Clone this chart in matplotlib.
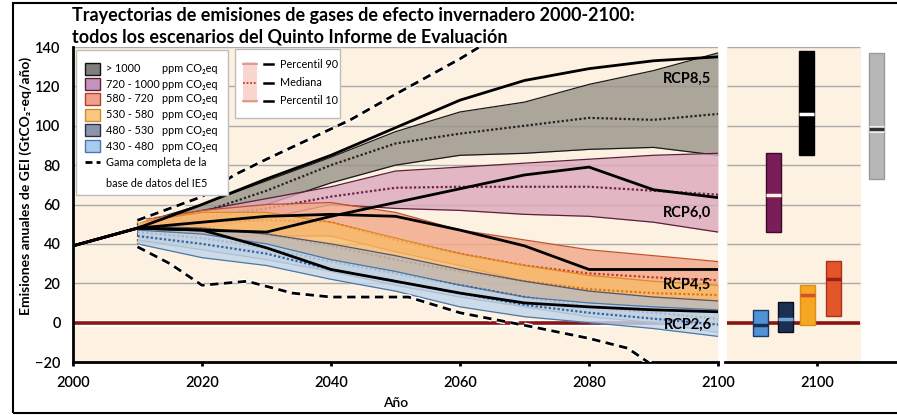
import matplotlib
matplotlib.use('Agg')
import matplotlib.pyplot as plt
import matplotlib.patheffects as pe
from matplotlib.patches import Rectangle
from matplotlib.lines import Line2D

plt.rcParams['font.family'] = ['Lato', 'DejaVu Sans']

# ---------------- data ----------------
band_years = [2010, 2020, 2030, 2040, 2050, 2060, 2070, 2080, 2090, 2100]

# >1000 ppm CO2eq
c1000_lo = [45, 51, 60, 71, 80, 85, 86, 88, 89, 85]
c1000_med = [47, 56, 67, 80, 91, 96, 100, 104, 103, 106]
c1000_hi = [50, 60, 72, 84, 97, 107, 112, 121, 128, 137]
# 720-1000
c720_lo = [44, 48, 53, 60, 58, 57, 55, 54, 51, 46]
c720_med = [47, 53, 58, 64, 68.5, 69, 69, 69, 67, 65]
c720_hi = [50, 57, 63, 69, 77, 79, 81, 83, 85, 86]
# 580-720
c580_lo = [42, 44, 44, 44, 36, 29, 21, 16, 13, 11]
c580_med = [47, 51, 52, 51, 42, 35, 29, 25, 23, 21.5]
c580_hi = [52, 57, 60, 61, 56, 47, 42, 37, 34, 31]
# 530-580
c530_lo = [41, 40, 36, 28, 21, 14, 9, 5, 2, 0]
c530_med = [46, 48, 45, 39, 32, 26, 21, 17, 15, 14]
c530_hi = [51, 56, 56, 51, 43, 35, 29, 24, 21, 19]
# 480-530
c480_lo = [42, 37, 32, 26, 19, 13, 8, 3, 0, -5]
c480_med = [46, 43, 38, 31, 25, 19, 13, 8, 5, 2]
c480_hi = [49, 48, 45, 40, 34, 27, 21, 16, 13, 11]
# 430-480
c430_lo = [40, 33, 29, 22, 16, 8, 3, 0, -3, -7]
c430_med = [44, 40, 35, 27, 21, 15, 9, 5, 2, -1]
c430_hi = [47, 45, 40, 32, 26, 19, 13, 10, 8, 6.5]

rcp_years = [2000, 2010, 2020, 2030, 2040, 2050, 2060, 2070, 2080, 2090, 2100]
rcp85 = [39, 48, 60, 73, 85, 99, 113, 123, 129, 133, 135]
rcp60 = [39, 48, 47, 46, 54, 61, 68, 75, 79, 67.5, 63.5]
rcp45 = [39, 48, 51, 54, 55, 54, 47, 39, 27, 27, 27]
rcp26 = [39, 48, 47, 38, 27, 21, 15, 10, 8, 6.5, 5.5]

range_hi_years = [2010, 2020, 2025, 2030, 2043, 2050, 2060, 2066]
range_hi = [52, 64, 75, 83, 103, 116, 134, 146]
range_lo_years = [2010, 2015, 2020, 2027, 2034, 2040, 2052, 2060, 2071, 2080, 2086, 2090]
range_lo = [38.5, 30, 19, 21, 15, 13, 13, 5, -2, -8, -13, -22]

# 2100 ranges (right panel)
bar_names = ['430-480', '480-530', '530-580', '580-720', '720-1000', '>1000']
bar_lo = [-7, -5, -1, 3.5, 46, 85]
bar_med = [-1, 2, 14, 22, 65, 106]
bar_hi = [6.5, 10.7, 19, 31.5, 86, 138]
base_lo, base_med, base_hi = 73, 98.5, 137

rcp_labels = ['RCP8,5', 'RCP6,0', 'RCP4,5', 'RCP2,6']
rcp_label_y = [124, 56, 19, -1]

legend_labels = ['> 1000', '720 - 1000', '580 - 720', '530 - 580', '480 - 530', '430 - 480']

# ---------------- styles ----------------
CREAM = '#fdf1e1'
GRID = '#a9a9a9'
ZERO = '#8b1414'
band_fill = ['#9a948b', '#dcaabd', '#f3a98b', '#f8ba6a', '#b3b8c6', '#c3d7eb']
band_alpha = [0.82, 0.82, 0.82, 0.82, 0.7, 0.82]
band_edge = ['#1a1a1a', '#5a1f3c', '#c0532e', '#e08a20', '#4f5872', '#4a78a8']
band_med = ['#222222', '#6a2448', '#c63c20', '#d87a10', '#2a3560', '#2f63a8']
legend_face = ['#7f7f7f', '#c493bd', '#f2a08c', '#f9c77f', '#8c93ab', '#a9cbee']
legend_edge = ['#111111', '#5a1f3c', '#b0402a', '#d08a30', '#2a3048', '#4a78a8']
bar_face = ['#4f93d6', '#1c2f52', '#f5a623', '#e2562a', '#7a1e5a', '#000000']
bar_edge = ['#1d3a66', '#0a0f1e', '#d8901a', '#a8321a', '#3a0a28', '#000000']
bar_mcol = ['#1a2d50', '#6fa4da', '#d4502a', '#9c1f1a', CREAM, '#ffffff']
bar_x = [760, 785, 807.5, 833, 773, 806.5]   # pixel slots in right panel
bar_w = 15

W, H = 897, 415
fig = plt.figure(figsize=(W / 100, H / 100), dpi=100)


def fx(px):
    return px / W


def fy(py):
    return 1 - py / H


ax = fig.add_axes([fx(73), fy(362), 645 / W, 315 / H])
ax.set_facecolor(CREAM)
ax.set_xlim(2000, 2100)
ax.set_ylim(-20, 140)
ax.set_yticks(range(-20, 141, 20))
ax.set_yticklabels(['\u221220'] + [str(v) for v in range(0, 141, 20)])
ax.set_xticks(range(2000, 2101, 20))
ax.grid(axis='y', color=GRID, lw=1, zorder=0)
ax.set_axisbelow(True)
for s in ['top', 'right']:
    ax.spines[s].set_visible(False)
for s in ['left', 'bottom']:
    ax.spines[s].set_linewidth(2)
ax.tick_params(axis='y', length=0, pad=9, labelsize=10.5)
ax.tick_params(axis='x', length=3, width=2, pad=7, labelsize=10.5)
for t in ax.get_xticklabels() + ax.get_yticklabels():
    t.set_fontweight('semibold')

ax.axhline(0, color='white', lw=5, zorder=1)
ax.axhline(0, color=ZERO, lw=2.6, zorder=1.1)

bands = [(c1000_lo, c1000_med, c1000_hi), (c720_lo, c720_med, c720_hi),
         (c580_lo, c580_med, c580_hi), (c530_lo, c530_med, c530_hi),
         (c480_lo, c480_med, c480_hi), (c430_lo, c430_med, c430_hi)]
for i, (lo, med, hi) in enumerate(bands):
    z = 2 + i * 0.1
    ax.fill_between(band_years, lo, hi, color=band_fill[i], alpha=band_alpha[i], lw=0,
                    zorder=z)
    ax.plot(band_years, lo, color=band_edge[i], lw=0.9, zorder=z + 0.01)
    ax.plot(band_years, hi, color=band_edge[i], lw=0.9, zorder=z + 0.01)
    ax.plot(band_years, med, color=band_med[i], lw=1.6, ls=(0, (1, 1)), zorder=z + 0.02)

for r in [rcp85, rcp60, rcp45, rcp26]:
    ax.plot(rcp_years, r, color='black', lw=2, zorder=4, solid_capstyle='round')

halo = [pe.withStroke(linewidth=4, foreground='white')]
ax.plot(range_hi_years, range_hi, color='black', lw=2, ls=(0, (3, 2)), zorder=5,
        path_effects=halo)
ax.plot(range_lo_years, range_lo, color='black', lw=2, ls=(0, (3, 2)), zorder=5,
        path_effects=halo)

for lab, yv in zip(rcp_labels, rcp_label_y):
    ax.text(2099, yv, lab, ha='right', va='center', fontsize=10.5, fontweight='bold',
            zorder=6)

ax.set_xlabel('Año', fontsize=10, fontweight='semibold', labelpad=5)
ax.set_ylabel('Emisiones anuales de GEI (GtCO\u2082-eq/año)', fontsize=10,
              fontweight='bold')
ax.yaxis.set_label_coords(-0.063, 0.56)

# ---------------- right panel ----------------
ax2 = fig.add_axes([fx(725), fy(362), (W - 725) / W, 315 / H])
ax2.set_facecolor('none')
ax2.set_xlim(725, W)
ax2.set_ylim(-20, 140)
for s in ['top', 'right', 'left']:
    ax2.spines[s].set_visible(False)
ax2.spines['bottom'].set_linewidth(2)
ax2.set_yticks([])
ax2.set_xticks([817])
ax2.set_xticklabels(['2100'])
ax2.tick_params(axis='x', length=3, width=2, pad=7, labelsize=10.5)
for t in ax2.get_xticklabels():
    t.set_fontweight('semibold')
ax2.axvspan(727, 860, color=CREAM, zorder=0)
ax2.hlines(range(-20, 141, 20), 727, 860, color=GRID, lw=1, zorder=0.5)
ax2.hlines(0, 727, 860, color=ZERO, lw=2.6, zorder=1)

for i in range(len(bar_names)):
    x0 = bar_x[i] - bar_w / 2
    ax2.add_patch(Rectangle((x0, bar_lo[i]), bar_w, bar_hi[i] - bar_lo[i],
                            facecolor=bar_face[i], edgecolor=bar_edge[i], lw=1, zorder=3))
    ax2.hlines(bar_med[i], x0, x0 + bar_w, color=bar_mcol[i], lw=2.5, zorder=4)

ax2.add_patch(Rectangle((869, base_lo), 15, base_hi - base_lo, facecolor='#b7b7b7',
                        edgecolor='#999999', lw=1, zorder=3, clip_on=False))
ax2.hlines(base_med, 869, 884, color='#f2f2f2', lw=5, zorder=4, clip_on=False)
ax2.hlines(base_med, 869, 884, color='#333333', lw=2.5, zorder=4.1, clip_on=False)

# ---------------- legends ----------------
LFS = 7.8
fig.add_artist(Rectangle((fx(76), fy(195)), 152 / W, 145 / H, transform=fig.transFigure,
                         facecolor='white', edgecolor='#bdbdbd', lw=1, zorder=10))
row_y = [69, 84, 99, 115, 130, 146]
for i, lab in enumerate(legend_labels):
    fig.add_artist(Rectangle((fx(85), fy(row_y[i] + 6)), 15 / W, 12 / H,
                             transform=fig.transFigure, facecolor=legend_face[i],
                             edgecolor=legend_edge[i], lw=1, zorder=11))
    fig.text(fx(106), fy(row_y[i]), lab, fontsize=LFS, va='center', zorder=12)
    fig.text(fx(162), fy(row_y[i]), 'ppm CO\u2082eq', fontsize=LFS, va='center', zorder=12)
fig.add_artist(Line2D([fx(85), fx(100)], [fy(162), fy(162)], transform=fig.transFigure,
                      color='black', lw=2, ls=(0, (2.5, 1.5)), zorder=11))
fig.text(fx(106), fy(162), 'Gama completa de la', fontsize=LFS, va='center', zorder=12)
fig.text(fx(106), fy(183), 'base de datos del IE5', fontsize=LFS, va='center', zorder=12)

fig.add_artist(Rectangle((fx(235), fy(118)), 105 / W, 69 / H, transform=fig.transFigure,
                         facecolor='white', edgecolor='#bdbdbd', lw=1, zorder=10))
fig.add_artist(Rectangle((fx(243), fy(103)), 14 / W, 41 / H, transform=fig.transFigure,
                         facecolor='#f8d6cf', edgecolor='none', zorder=11))
for py, st, col in [(64, '-', '#d9968a'), (83, (0, (1, 1)), '#c63c20'), (101, '-', '#d9968a')]:
    fig.add_artist(Line2D([fx(243), fx(257)], [fy(py), fy(py)], transform=fig.transFigure,
                          color=col, lw=1.3, ls=st, zorder=12))
    fig.add_artist(Line2D([fx(264), fx(273)], [fy(py), fy(py)], transform=fig.transFigure,
                          color='black', lw=1.8, zorder=12))
for py, lab in [(64, 'Percentil 90'), (83, 'Mediana'), (101, 'Percentil 10')]:
    fig.text(fx(280), fy(py), lab, fontsize=LFS, va='center', zorder=12)

# ---------------- title and frame ----------------
fig.text(fx(72), fy(15), 'Trayectorias de emisiones de gases de efecto invernadero 2000-2100:',
         fontsize=13, fontweight='bold', va='center')
fig.text(fx(72), fy(37), 'todos los escenarios del Quinto Informe de Evaluación',
         fontsize=13, fontweight='bold', va='center')
fig.add_artist(Rectangle((fx(13), fy(413)), (W + 20) / W, 410 / H, transform=fig.transFigure,
                         facecolor='none', edgecolor='black', lw=1.5, zorder=20))

fig.savefig('out.png', dpi=100)
